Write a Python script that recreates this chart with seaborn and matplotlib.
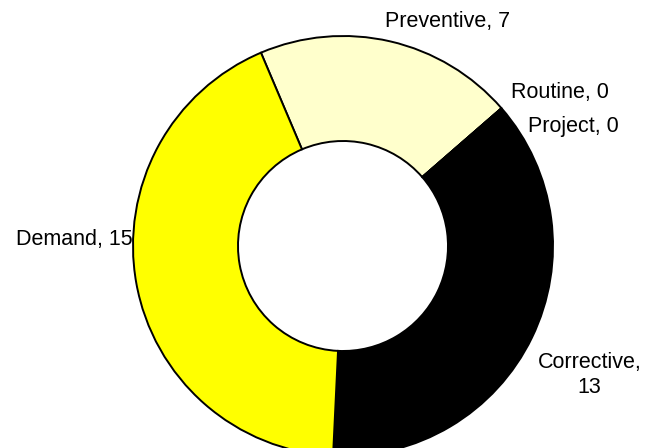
import matplotlib
matplotlib.use("Agg")
import matplotlib.pyplot as plt
import seaborn as sns

# Work order counts by type (clockwise from the Demand/Preventive boundary)
categories = ["Preventive", "Routine", "Project", "Corrective", "Demand"]
counts = [7, 0, 0, 13, 15]
slice_colors = ["#FFFFCC", "#FFFFFF", "#FFFFFF", "#000000", "#FFFF00"]

sns.set_theme(style="white")
plt.rcParams["font.family"] = ["Liberation Sans", "DejaVu Sans"]

fig = plt.figure(figsize=(6.55, 4.48), dpi=100)
ax = fig.add_axes([0, 0, 1, 1])

wedges, _ = ax.pie(
    counts,
    colors=slice_colors,
    startangle=113,
    counterclock=False,
    radius=1.0,
    wedgeprops=dict(width=0.5, edgecolor="black", linewidth=1.4),
)

# data labels, placed where the original chart put them
label_pos = {
    "Preventive": (0.500, 1.069),
    "Routine": (1.033, 0.731),
    "Project": (1.098, 0.569),
    "Corrective": (1.174, -0.614),
    "Demand": (-1.279, 0.029),
}
for name, val in zip(categories, counts):
    sep = ",\n" if name == "Corrective" else ", "
    x, y = label_pos[name]
    ax.text(x, y, f"{name}{sep}{val}", ha="center", va="center",
            fontsize=15.5, color="black", linespacing=1.25)

ax.set_xlim(-343 / 210, 312 / 210)
ax.set_ylim(-202 / 210, 246 / 210)
ax.set_aspect("equal")
ax.axis("off")

fig.savefig("out.png", dpi=100, facecolor="white")
